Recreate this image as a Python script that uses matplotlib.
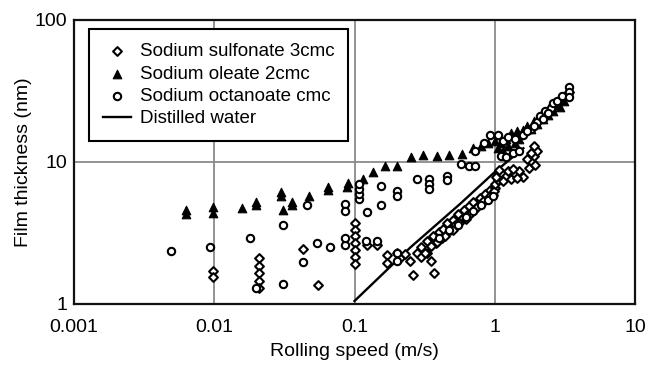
import matplotlib
matplotlib.use("Agg")
import matplotlib.pyplot as plt

plt.rcParams['font.family'] = ['Liberation Sans', 'DejaVu Sans']

# Sodium sulfonate 3cmc (open diamonds)
sulf_x = [0.0098, 0.0098, 0.021, 0.021, 0.021, 0.021, 0.021, 0.043, 0.055,
          0.1, 0.1, 0.1, 0.1, 0.1, 0.1, 0.1, 0.122, 0.145, 0.17, 0.17,
          0.2, 0.21, 0.23, 0.25, 0.28, 0.3, 0.33, 0.35, 0.26, 0.37,
          0.3, 0.33, 0.36, 0.4, 0.43, 0.46, 0.5, 0.55, 0.6, 0.65, 0.7, 0.78, 0.85, 0.93, 1.0,
          0.38, 0.42, 0.48, 0.52, 0.58, 0.63, 0.72, 0.8, 0.9, 0.97,
          0.32, 0.35, 0.39, 0.44, 0.5, 0.56, 0.62, 0.68, 0.75, 0.83, 0.92, 0.99,
          1.0, 1.05, 1.1, 1.2, 1.3, 1.4, 1.5, 1.6, 1.75, 1.85, 1.9, 2.0, 1.9,
          1.02, 1.08, 1.15, 1.25, 1.35, 1.45, 1.7, 1.8, 1.95,
          2.3, 2.6, 3.0, 3.4]
sulf_y = [1.72, 1.55, 2.1, 1.85, 1.65, 1.45, 1.3, 2.45, 1.36,
          3.7, 3.3, 3.0, 2.7, 2.4, 2.15, 1.9, 2.6, 2.6, 2.2, 1.95,
          2.3, 2.1, 2.25, 2.0, 2.3, 2.15, 2.3, 2.0, 1.6, 1.65,
          2.5, 2.8, 3.0, 3.2, 3.4, 3.7, 3.9, 4.3, 4.6, 4.9, 5.2, 5.6, 6.0, 6.3, 6.6,
          2.7, 2.9, 3.3, 3.6, 4.0, 4.2, 4.7, 5.1, 5.5, 5.9,
          2.3, 2.55, 2.75, 3.0, 3.3, 3.7, 3.95, 4.4, 4.8, 5.3, 5.8, 6.2,
          7.0, 7.5, 8.3, 8.0, 7.6, 8.2, 8.6, 7.9, 9.0, 10.0, 11.0, 12.0, 13.0,
          7.8, 8.8, 7.4, 8.6, 8.9, 7.7, 10.5, 11.5, 9.6,
          22, 25, 28, 31]

# Sodium oleate 2cmc (filled triangles)
ole_x = [0.0063, 0.0063, 0.0098, 0.0098, 0.0157, 0.0197, 0.0197, 0.030, 0.030, 0.031,
         0.036, 0.036, 0.047, 0.065, 0.065, 0.088, 0.09, 0.115, 0.135, 0.164, 0.2,
         0.253, 0.31, 0.39, 0.47, 0.58, 0.7, 0.8, 0.9, 1.0, 1.1, 1.2, 1.3, 1.45,
         1.58, 1.7, 1.8, 1.9, 2.0, 2.1, 2.3, 2.5, 2.7, 2.9, 3.1,
         1.05, 1.15, 1.25, 1.4, 1.5, 2.2, 2.4, 2.6, 2.8]
ole_y = [4.3, 4.6, 4.4, 4.8, 4.72, 5.25, 5.0, 6.1, 5.8, 4.6,
         5.25, 5.0, 5.75, 6.7, 6.3, 6.7, 7.1, 7.6, 8.5, 9.3, 9.3,
         10.8, 11.2, 11.0, 11.2, 11.4, 12.5, 13.0, 13.5, 14.0, 13.5, 14.5, 16.0, 16.5,
         16.9, 18.0, 17.0, 19.5, 18.5, 21.0, 22.5, 24.0, 25.0, 24.5, 27.0,
         12.5, 12.0, 13.0, 13.5, 14.5, 20.0, 21.5, 23.0, 26.0]

# Sodium octanoate cmc (open circles)
oct_x = [0.0049, 0.0094, 0.018, 0.031, 0.046, 0.031, 0.054, 0.067, 0.043, 0.02,
         0.085, 0.085, 0.122, 0.107, 0.107, 0.107, 0.107, 0.155, 0.155, 0.2, 0.2,
         0.28, 0.34, 0.34, 0.34, 0.46, 0.46, 0.085, 0.085, 0.12, 0.144, 0.2, 0.2,
         0.57, 0.65, 0.72, 0.72, 0.84, 0.93,
         1.05, 1.15, 1.25, 1.4, 1.6, 1.8, 2.0, 2.1, 2.3, 2.5, 2.6, 2.8, 3.0, 3.4, 3.4, 3.4,
         0.4, 0.47, 0.55, 0.62, 0.7, 0.8, 0.9, 0.97, 1.1, 1.2, 1.35, 1.5, 1.7, 1.9, 2.2, 2.4]
oct_y = [2.36, 2.53, 2.9, 3.6, 5.0, 1.38, 2.67, 2.53, 1.98, 1.3,
         5.1, 4.5, 4.45, 5.5, 6.0, 6.5, 7.0, 6.8, 5.0, 6.2, 5.8,
         7.6, 7.6, 7.0, 6.5, 8.0, 7.5, 2.6, 2.9, 2.8, 2.8, 2.3, 2.0,
         9.7, 9.3, 9.3, 11.9, 13.7, 15.6,
         15.5, 14.0, 15.0, 14.5, 15.5, 17.0, 19.0, 21.0, 23.0, 24.0, 26.0, 27.0, 29.0, 34.0, 31.0, 28.5,
         2.9, 3.3, 3.6, 4.1, 4.5, 5.0, 5.4, 5.8, 11.0, 10.8, 11.5, 12.0, 16.5, 18.0, 20.0, 22.0]

# Distilled water (line)
water_x = [0.1, 0.25, 0.57, 1.0, 1.6]
water_y = [1.05, 2.5, 5.1, 8.5, 12.5]

fig = plt.figure(figsize=(6.6, 3.65), dpi=100)
ax = fig.add_axes([74/660, 1-304/365, (635-74)/660, (304-20)/365])

ax.plot(water_x, water_y, color='black', lw=1.7, label='Distilled water', zorder=2)
ax.scatter(sulf_x, sulf_y, marker='D', s=20, facecolors='white', edgecolors='black',
           linewidths=1.5, label='Sodium sulfonate 3cmc', zorder=3)
ax.scatter(ole_x, ole_y, marker='^', s=38, facecolors='black', edgecolors='black',
           linewidths=0.8, label='Sodium oleate 2cmc', zorder=3)
ax.scatter(oct_x, oct_y, marker='o', s=28, facecolors='white', edgecolors='black',
           linewidths=1.5, label='Sodium octanoate cmc', zorder=3)

ax.set_xscale('log')
ax.set_yscale('log')
ax.set_xlim(0.001, 10)
ax.set_ylim(1, 100)
ax.set_xticks([0.001, 0.01, 0.1, 1, 10])
ax.set_xticklabels(['0.001', '0.01', '0.1', '1', '10'])
ax.set_yticks([1, 10, 100])
ax.set_yticklabels(['1', '10', '100'])
ax.minorticks_off()
ax.tick_params(axis='x', length=0, labelsize=14, pad=11)
ax.tick_params(axis='y', length=0, labelsize=14, pad=5)
ax.grid(True, which='major', color='#8a8a8a', lw=1.3)
ax.set_axisbelow(True)
for s in ax.spines.values():
    s.set_linewidth(1.6)
    s.set_color('#111111')

ax.set_xlabel('Rolling speed (m/s)', fontsize=14, labelpad=5)
ax.set_ylabel('Film thickness (nm)', fontsize=14, labelpad=2)

handles, labels = ax.get_legend_handles_labels()
order = [1, 2, 3, 0]
leg = ax.legend([handles[i] for i in order], [labels[i] for i in order],
                loc='upper left', bbox_to_anchor=(89/660, 1-29/365),
                bbox_transform=fig.transFigure, borderaxespad=0,
                fontsize=13.5, frameon=True, fancybox=False, framealpha=1,
                edgecolor='black', handlelength=1.5, handletextpad=0.45,
                labelspacing=0.28, borderpad=0.75)
leg.get_frame().set_linewidth(1.5)

fig.savefig('out.png', dpi=100)
